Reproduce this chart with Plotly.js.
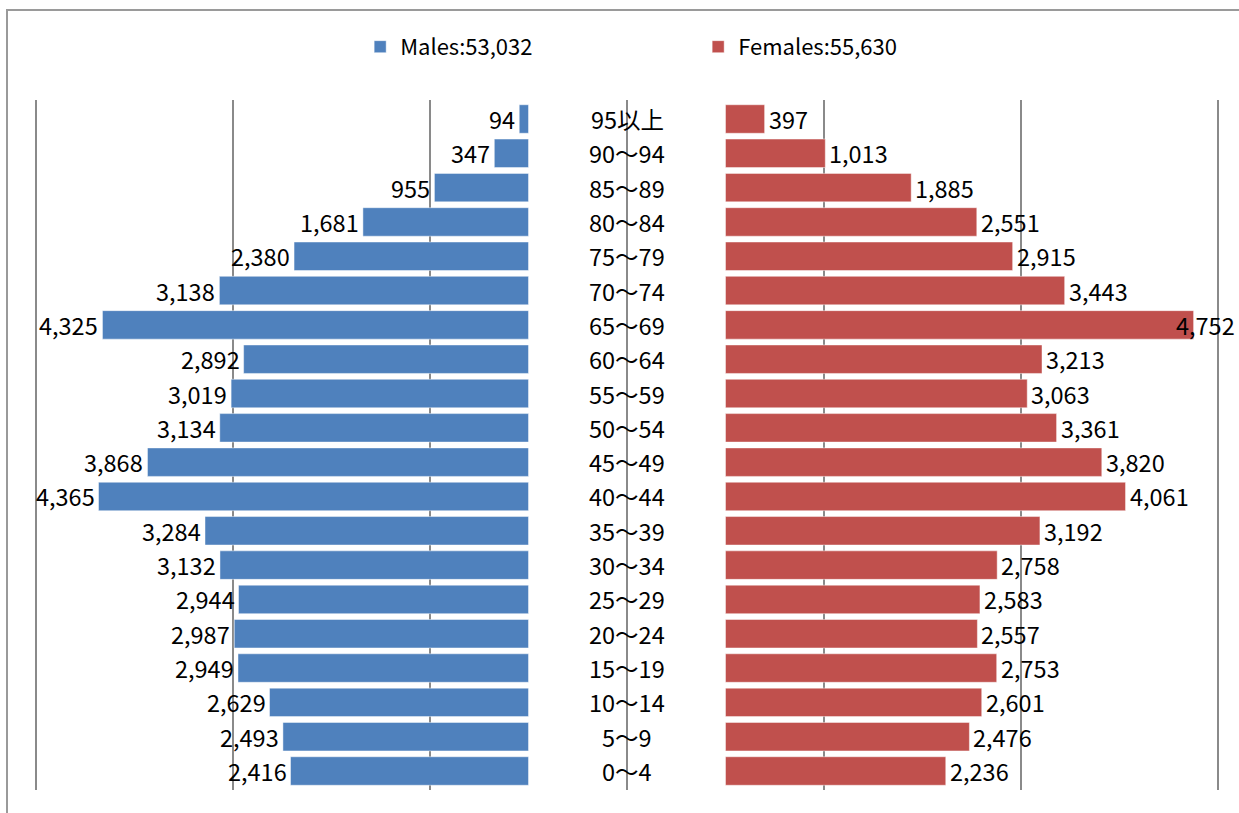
<!DOCTYPE html>
<html>
<head>
<meta charset="utf-8">
<script src="https://cdn.plot.ly/plotly-3.0.1.min.js"></script>
<style>
  html, body { margin: 0; padding: 0; background: #fff; overflow: hidden; }
  #chart { width: 1239px; height: 813px; }
  #frame { position: absolute; left: 6px; top: 9px; width: 1300px; height: 900px;
           border: 2px solid #9a9a9a; pointer-events: none; box-sizing: border-box; }
</style>
</head>
<body>
<div id="chart"></div>
<div id="frame"></div>
<script>
// Age groups, bottom to top
const ageGroups = ["0～4","5～9","10～14","15～19","20～24","25～29","30～34","35～39","40～44","45～49",
                   "50～54","55～59","60～64","65～69","70～74","75～79","80～84","85～89","90～94","95以上"];
const males   = [2416,2493,2629,2949,2987,2944,3132,3284,4365,3868,3134,3019,2892,4325,3138,2380,1681,955,347,94];
const females = [2236,2476,2601,2753,2557,2583,2758,3192,4061,3820,3361,3063,3213,4752,3443,2915,2551,1885,1013,397];

const GAP = 1000;     // half-width of the central label gap, in axis units
const AXMAX = 6000;   // outer gridline position
const fmt = v => v.toLocaleString('en-US');
const sum = a => a.reduce((s, v) => s + v, 0);

const FONT = '"Noto Sans CJK JP", "Noto Sans", sans-serif';
const FS = 23.5;

const traces = [
  {
    type: 'bar', orientation: 'h', name: 'Males:' + fmt(sum(males)),
    y: ageGroups, x: males.map(v => -v), base: males.map(() => -GAP),
    marker: { color: '#4F81BD', line: { color: 'rgba(255,255,255,0.45)', width: 1 } },
    hoverinfo: 'skip'
  },
  {
    type: 'bar', orientation: 'h', name: 'Females:' + fmt(sum(females)),
    y: ageGroups, x: females, base: females.map(() => GAP),
    marker: { color: '#C0504D', line: { color: 'rgba(255,255,255,0.45)', width: 1 } },
    hoverinfo: 'skip'
  }
];

const annotations = [];
ageGroups.forEach((g, i) => {
  annotations.push({ x: 0, y: g, text: g, showarrow: false, xanchor: 'center', yanchor: 'middle',
                     font: { family: FONT, size: FS, color: '#000' } });
  annotations.push({ x: -GAP - males[i], y: g, text: fmt(males[i]), showarrow: false,
                     xanchor: 'right', yanchor: 'middle', xshift: -2,
                     font: { family: FONT, size: FS, color: '#000' } });
  const fEnd = GAP + females[i];
  const nearEdge = fEnd > AXMAX - 600;   // label would not fit: let it overlap the bar end
  annotations.push({ x: fEnd, y: g, text: fmt(females[i]), showarrow: false,
                     xanchor: nearEdge ? 'center' : 'left', yanchor: 'middle',
                     xshift: nearEdge ? 12 : 2,
                     font: { family: FONT, size: FS, color: '#000' } });
});

const layout = {
  width: 1239, height: 813,
  margin: { l: 34, r: 19, t: 100, b: 23, autoexpand: false },
  paper_bgcolor: '#fff', plot_bgcolor: '#fff',
  font: { family: FONT, size: 22, color: '#000' },
  barmode: 'overlay', bargap: 0.17,
  showlegend: true,
  legend: { orientation: 'h', x: 0.56, xanchor: 'center', y: 1.077, yanchor: 'middle',
            font: { family: FONT, size: 22, color: '#000' }, entrywidth: 293, itemwidth: 30 },
  xaxis: { range: [-AXMAX - 20, AXMAX + 20], dtick: 2000, tick0: 0, showticklabels: false, showgrid: true,
           gridcolor: '#8a8a8a', gridwidth: 1.5, zeroline: false, showline: false, fixedrange: true },
  yaxis: { type: 'category', showticklabels: false, showgrid: false, zeroline: false, showline: false,
           fixedrange: true },
  annotations: annotations
};

Plotly.newPlot('chart', traces, layout, { displayModeBar: false, staticPlot: true });
</script>
</body>
</html>
